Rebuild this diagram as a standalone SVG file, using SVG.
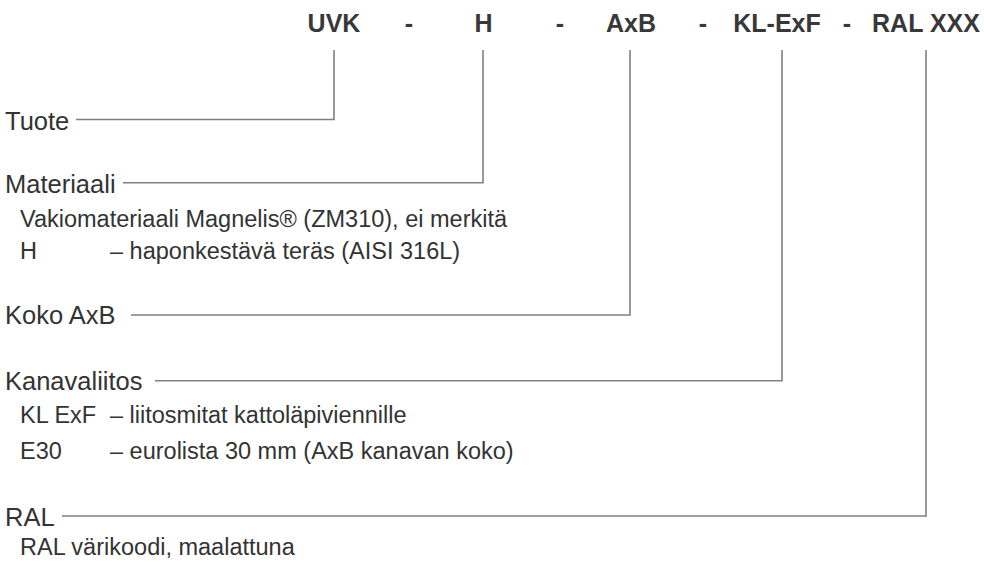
<svg xmlns="http://www.w3.org/2000/svg" width="984" height="565" viewBox="0 0 984 565">
<style>
.code{font-family:"Liberation Sans",Arial,sans-serif;font-size:25px;font-weight:700;fill:#383838;text-anchor:middle}
.lbl{font-family:"Liberation Sans",Arial,sans-serif;font-size:25.5px;fill:#333}
.sub{font-family:"Liberation Sans",Arial,sans-serif;font-size:23.5px;fill:#333}
.conn{fill:none;stroke:#808080;stroke-width:1.6}
</style>
<rect width="984" height="565" fill="#fff"/>
<g id="code">
<text class="code" x="334" y="32">UVK</text>
<text class="code" x="409" y="32">-</text>
<text class="code" x="483.5" y="32">H</text>
<text class="code" x="560" y="32">-</text>
<text class="code" x="631" y="32">AxB</text>
<text class="code" x="703" y="32">-</text>
<text class="code" x="777" y="32">KL-ExF</text>
<text class="code" x="847" y="32">-</text>
<text class="code" x="926" y="32">RAL XXX</text>
</g>
<g id="connectors">
<path class="conn" d="M334,50 V119.5 H76"/>
<path class="conn" d="M483,50 V182.7 H123"/>
<path class="conn" d="M630,50 V315 H131"/>
<path class="conn" d="M782,50 V380.7 H155"/>
<path class="conn" d="M926,50 V516 H62"/>
</g>
<g id="tuote">
<text class="lbl" x="5" y="129.5">Tuote</text>
</g>
<g id="materiaali">
<text class="lbl" x="5" y="193">Materiaali</text>
<text class="sub" x="20" y="227">Vakiomateriaali Magnelis® (ZM310), ei merkitä</text>
<text class="sub" x="20" y="259">H</text>
<text class="sub" x="110" y="259">– haponkestävä teräs (AISI 316L)</text>
</g>
<g id="koko">
<text class="lbl" x="5" y="323.5">Koko AxB</text>
</g>
<g id="kanavaliitos">
<text class="lbl" x="5" y="389.5">Kanavaliitos</text>
<text class="sub" x="20" y="423">KL ExF</text>
<text class="sub" x="110" y="423">– liitosmitat kattoläpiviennille</text>
<text class="sub" x="20" y="459">E30</text>
<text class="sub" x="110" y="459">– eurolista 30 mm (AxB kanavan koko)</text>
</g>
<g id="ral">
<text class="lbl" x="5" y="525.5">RAL</text>
<text class="sub" x="20" y="555">RAL värikoodi, maalattuna</text>
</g>
</svg>
